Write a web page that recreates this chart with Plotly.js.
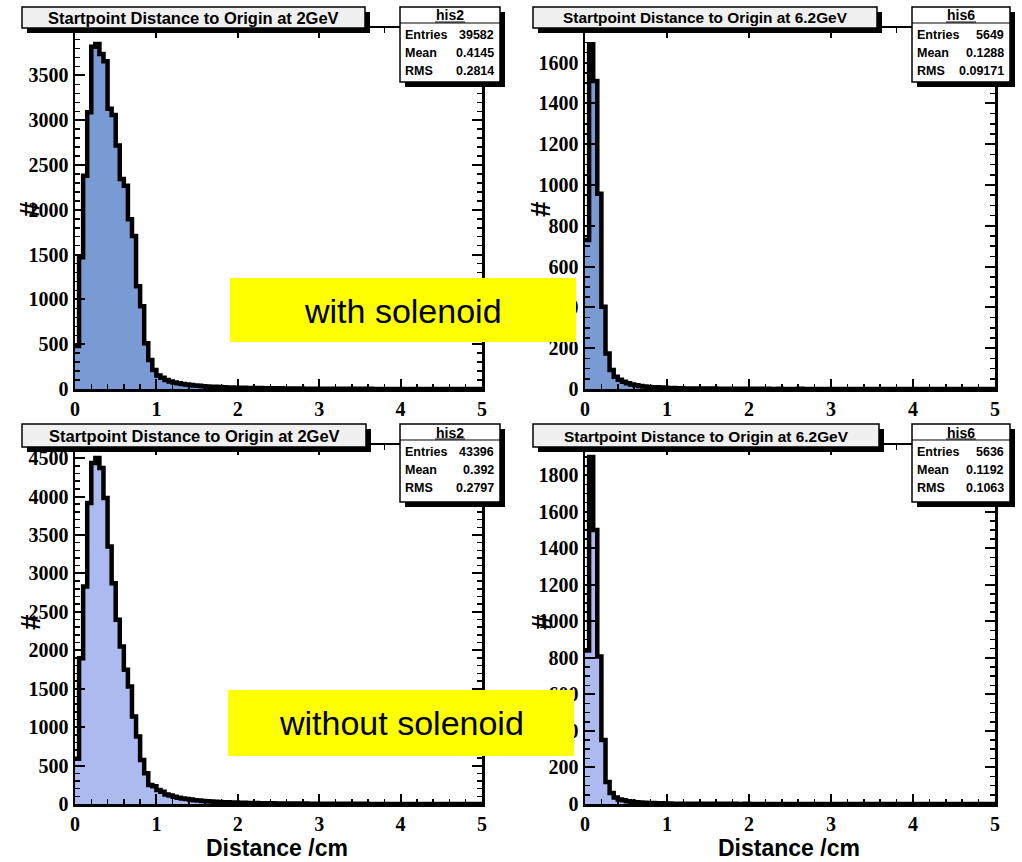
<!DOCTYPE html>
<html><head><meta charset="utf-8">
<script src="https://cdn.plot.ly/plotly-3.0.1.min.js"></script>
<style>html,body{margin:0;padding:0;background:#fff;} #chart{width:1022px;height:862px;}</style>
</head><body><div id="chart"></div>
<script>
// ---- data (bin width 0.05 cm, 100 bins from 0 to 5) ----
const binWidth = 0.05;
const withSol2GeV = [480,1470,2380,3090,3820,3850,3740,3660,3128,3060,
 2717,2343,2270,1895,1708,1147,923,512,325,213,
 150,125,100,85,72,63,56,50,44,40,
 36,32,29,26,24,22,20,18,17,15,
 14,13,12,11,10,10,9,8,8,7,
 7,6,6,5,5,5,4,4,4,4,
 3,3,3,3,3,2,2,2,2,2,
 2,2,2,1,1,1,1,1,1,1,
 1,1,1,1,1,1,1,1,1,1,
 1,1,0,1,0,1,0,0,1,0];
const withSol62GeV = [730,1690,1510,957,403,174,93,60,45,35,
 28,22,18,15,12,10,9,8,7,6,
 5,5,4,4,3,3,3,2,2,2,
 2,2,1,1,1,1,1,1,1,1,
 1,0,1,0,1,0,0,1,0,0,
 0,0,1,0,0,0,0,0,0,0,
 0,0,0,0,0,0,0,0,0,0,
 0,0,0,0,0,0,0,0,0,0,
 0,0,0,0,0,0,0,0,0,0,
 0,0,0,0,0,0,0,0,0,0];
const noSol2GeV = [590,1897,2830,3915,4435,4500,4370,3980,3350,2873,
 2396,2050,1745,1528,1137,877,573,399,247,230,
 182,160,125,110,95,82,72,64,57,50,
 45,40,36,32,29,26,24,22,20,18,
 16,15,14,13,12,11,10,9,9,8,
 7,7,6,6,5,5,5,4,4,4,
 3,3,3,3,3,2,2,2,2,2,
 2,2,1,1,1,1,1,1,1,1,
 1,1,1,1,1,1,1,1,1,1,
 1,0,1,1,0,1,0,0,1,0];
const noSol62GeV = [840,1900,1500,807,350,120,60,35,25,20,
 15,12,10,8,7,6,5,4,4,3,
 3,2,2,2,2,1,1,1,1,1,
 1,1,1,0,1,0,1,0,0,1,
 0,0,0,0,0,0,0,0,0,0,
 0,0,0,0,0,0,0,0,0,0,
 0,0,0,0,0,0,0,0,0,0,
 0,0,0,0,0,0,0,0,0,0,
 0,0,0,0,0,0,0,0,0,0,
 0,0,0,0,0,0,0,0,0,0];

const xTicks = [0,1,2,3,4,5];
const yTicks2GeVsol = [0,500,1000,1500,2000,2500,3000,3500];
const yTicks62GeVsol = [0,200,400,600,800,1000,1200,1400,1600];
const yTicks2GeVnosol = [0,500,1000,1500,2000,2500,3000,3500,4000,4500];
const yTicks62GeVnosol = [0,200,400,600,800,1000,1200,1400,1600,1800];

const titles = ["Startpoint Distance to Origin at 2GeV","Startpoint Distance to Origin at 6.2GeV",
                "Startpoint Distance to Origin at 2GeV","Startpoint Distance to Origin at 6.2GeV"];
const statNames = ["his2","his6","his2","his6"];
const statLabels = ["Entries","Mean","RMS"];
const statValues = [["39582","0.4145","0.2814"],["5649","0.1288","0.09171"],
                    ["43396","0.392","0.2797"],["5636","0.1192","0.1063"]];
const xTitle = "Distance /cm";
const yTitle = "#";
const labelsBoxes = ["with solenoid","without solenoid"];

// ---- helpers ----
const W = 1022, H = 862;
const px = x => x / W;
const py = y => 1 - y / H;

function histTrace(vals, xa, ya, fill) {
  const x = [], y = [];
  for (let i = 0; i < vals.length; i++) { x.push(i * binWidth); y.push(vals[i]); }
  x.push(vals.length * binWidth); y.push(vals[vals.length - 1]);
  return {type:'scatter', mode:'lines', x:x, y:y, xaxis:xa, yaxis:ya,
    line:{shape:'hv', color:'black', width:4.5}, fill:'tozeroy', fillcolor:fill,
    hoverinfo:'skip', showlegend:false};
}
const serif = "'Liberation Serif', 'Times New Roman', Times, 'DejaVu Serif', serif";
const tickFont = {family:serif, size:20, color:'black', weight:'bold'};
function xAx(d0, d1, anchor) {
  return {domain:[px(d0), px(d1)], range:[0,5], anchor:anchor, showline:true, linecolor:'black',
    linewidth:2.5, mirror:'ticks', ticks:'inside', ticklen:10, tickwidth:2, tickcolor:'black',
    tickmode:'array', tickvals:xTicks, tickfont:tickFont, showgrid:false, zeroline:false,
    minor:{ticks:'inside', ticklen:5, tickwidth:1.5, tickcolor:'black', tickmode:'linear', tick0:0, dtick:0.2},
    fixedrange:true};
}
function yAx(top, bot, anchor, maxv, ticks, minorStep) {
  return {domain:[py(bot), py(top)], range:[0,maxv], anchor:anchor, showline:true, linecolor:'black',
    linewidth:2.5, mirror:'ticks', ticks:'inside', ticklen:10, tickwidth:2, tickcolor:'black',
    tickmode:'array', tickvals:ticks, tickfont:tickFont, showgrid:false, zeroline:false,
    minor:{ticks:'inside', ticklen:5, tickwidth:1.5, tickcolor:'black', tickmode:'linear', tick0:0, dtick:minorStep},
    fixedrange:true};
}

const topFill = '#7a9ad4';
const botFill = '#adbaf0';
const data = [
  histTrace(withSol2GeV, 'x', 'y', topFill),
  histTrace(withSol62GeV, 'x2', 'y2', topFill),
  histTrace(noSol2GeV, 'x3', 'y3', botFill),
  histTrace(noSol62GeV, 'x4', 'y4', botFill)
];

const shapes = [], annotations = [];
function rectPx(x0, y0, x1, y1, fill, lw) {
  shapes.push({type:'rect', xref:'paper', yref:'paper', x0:px(x0), x1:px(x1), y0:py(y1), y1:py(y0),
    fillcolor:fill, line:{color:'black', width:lw}, layer:'above'});
}
function linePx(x0, y0, x1, y1, lw) {
  shapes.push({type:'line', xref:'paper', yref:'paper', x0:px(x0), x1:px(x1), y0:py(y0), y1:py(y1),
    line:{color:'black', width:lw}, layer:'above'});
}
function textPx(x, y, t, size, anchor, opts) {
  annotations.push(Object.assign({xref:'paper', yref:'paper', x:px(x), y:py(y), text:t, showarrow:false,
    xanchor:anchor, yanchor:'middle', borderpad:0,
    font:{family:'Liberation Sans, Arial, sans-serif', size:size, color:'black', weight:'bold'}}, opts || {}));
}

// title boxes: [x0,y0,x1,y1,fontsize]
const titleBoxes = [[22,7,365,28,16.5],[533,7,877,28,15.4],[22,424,366,447,16.5],[533,424,879,447,15.4]];
titleBoxes.forEach((b, i) => {
  rectPx(b[0]+5, b[1]+5, b[2]+5, b[3]+5, 'black', 0);
  rectPx(b[0], b[1], b[2], b[3], '#f0f0f0', 1.5);
  textPx((b[0]+b[2])/2, (b[1]+b[3])/2 + 0.5, titles[i], b[4], 'center');
});
// stats boxes: [x0,y0,x1,y1]
const statBoxes = [[400,7,500,82],[912,7,1010,82],[400,424,500,502],[912,424,1010,502]];
statBoxes.forEach((b, i) => {
  rectPx(b[0]+5, b[1]+5, b[2]+5, b[3]+5, 'black', 0);
  rectPx(b[0], b[1], b[2], b[3], 'white', 1.5);
  linePx(b[0], b[1] + 16, b[2], b[1] + 16, 1.2);
  textPx((b[0]+b[2])/2, b[1] + 8.5, statNames[i], 14, 'center');
  linePx((b[0]+b[2])/2 - 15, b[1] + 15, (b[0]+b[2])/2 + 15, b[1] + 15, 1);
  for (let r = 0; r < 3; r++) {
    const yy = b[1] + 28 + r * 18;
    textPx(b[0] + 4, yy, statLabels[r], 12.5, 'left');
    textPx(b[2] - 5, yy, statValues[i][r], 12.5, 'right');
  }
});
// yellow label boxes
rectPx(230, 278, 576, 342, '#ffff00', 0);
textPx(403, 311, labelsBoxes[0], 34, 'center', {font:{family:'Liberation Sans, Arial, sans-serif', size:34, color:'black'}});
rectPx(228, 690, 574, 756, '#ffff00', 0);
textPx(401, 723, labelsBoxes[1], 34, 'center', {font:{family:'Liberation Sans, Arial, sans-serif', size:34, color:'black'}});
// axis titles
[[30,209],[541,209],[30,622],[541,622]].forEach(p => textPx(p[0], p[1], yTitle, 28, 'center', {textangle:-90}));
textPx(277, 848, xTitle, 23, 'center');
textPx(789, 848, xTitle, 23, 'center');

const layout = {
  width:W, height:H, margin:{l:0, r:0, t:0, b:0}, paper_bgcolor:'white', plot_bgcolor:'white',
  showlegend:false,
  xaxis: xAx(75, 482, 'y'),
  yaxis: yAx(28, 389, 'x', 4030, yTicks2GeVsol, 100),
  xaxis2: xAx(585, 995, 'y2'),
  yaxis2: yAx(28, 389, 'x2', 1770, yTicks62GeVsol, 50),
  xaxis3: xAx(75, 482, 'y3'),
  yaxis3: yAx(445, 804, 'x3', 4670, yTicks2GeVnosol, 100),
  xaxis4: xAx(585, 995, 'y4'),
  yaxis4: yAx(445, 804, 'x4', 1965, yTicks62GeVnosol, 50),
  shapes: shapes, annotations: annotations
};
Plotly.newPlot('chart', data, layout, {staticPlot:true, displayModeBar:false});
</script></body></html>
